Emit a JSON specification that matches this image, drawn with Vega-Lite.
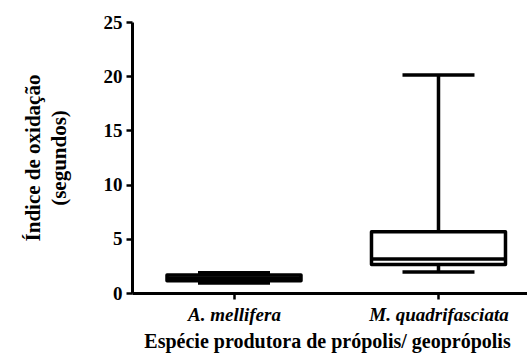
{
  "$schema": "https://vega.github.io/schema/vega-lite/v6.json",
  "autosize": "none",
  "padding": {"left": 132, "top": 22, "right": 0, "bottom": 63},
  "width": 395,
  "height": 271,
  "background": "white",
  "config": {
    "view": {"stroke": null},
    "font": "Liberation Serif",
    "axis": {
      "grid": false,
      "domainColor": "black",
      "domainWidth": 3,
      "tickColor": "black",
      "tickWidth": 2.5,
      "tickSize": 6,
      "labelColor": "black",
      "titleColor": "black",
      "labelFont": "Liberation Serif",
      "titleFont": "Liberation Serif",
      "labelFontWeight": "bold",
      "titleFontWeight": "bold"
    }
  },
  "data": {
    "values": [
      {"species": "A. mellifera", "min": 0.92, "q1": 1.12, "median": 1.38, "q3": 1.65, "max": 1.87},
      {"species": "M. quadrifasciata", "min": 1.94, "q1": 2.64, "median": 3.14, "q3": 5.65, "max": 20.1}
    ]
  },
  "encoding": {
    "x": {
      "field": "species",
      "type": "nominal",
      "sort": null,
      "scale": {"type": "point", "padding": 0.4658, "align": 0.5354},
      "axis": {
        "title": "Espécie produtora de própolis/ geoprópolis",
        "labelAngle": 0,
        "labelFontSize": 19,
        "labelFontStyle": "italic",
        "labelPadding": 6,
        "titleFontSize": 20,
        "titlePadding": 7,
        "titleX": 195
      }
    }
  },
  "layer": [
    {
      "mark": {"type": "rule", "color": "black", "strokeWidth": 3.5},
      "encoding": {
        "y": {
          "field": "min",
          "type": "quantitative",
          "scale": {"domain": [0, 25], "nice": false, "zero": true},
          "axis": {
            "title": ["Índice de oxidação", "(segundos)"],
            "values": [0, 5, 10, 15, 20, 25],
            "labelFontSize": 19,
            "labelPadding": 4,
            "titleFontSize": 21,
            "titleLineHeight": 26,
            "titlePadding": 34
          }
        },
        "y2": {"field": "max"}
      }
    },
    {
      "mark": {"type": "bar", "fill": "white", "stroke": "black", "strokeWidth": 3.5, "size": 134, "strokeJoin": "round"},
      "encoding": {
        "y": {"field": "q1", "type": "quantitative"},
        "y2": {"field": "q3"}
      }
    },
    {
      "mark": {"type": "tick", "color": "black", "size": 134, "thickness": 3.5, "opacity": 1},
      "encoding": {"y": {"field": "median", "type": "quantitative"}}
    },
    {
      "mark": {"type": "tick", "color": "black", "size": 72, "thickness": 3.5, "opacity": 1},
      "encoding": {"y": {"field": "min", "type": "quantitative"}}
    },
    {
      "mark": {"type": "tick", "color": "black", "size": 72, "thickness": 3.5, "opacity": 1},
      "encoding": {"y": {"field": "max", "type": "quantitative"}}
    }
  ]
}
